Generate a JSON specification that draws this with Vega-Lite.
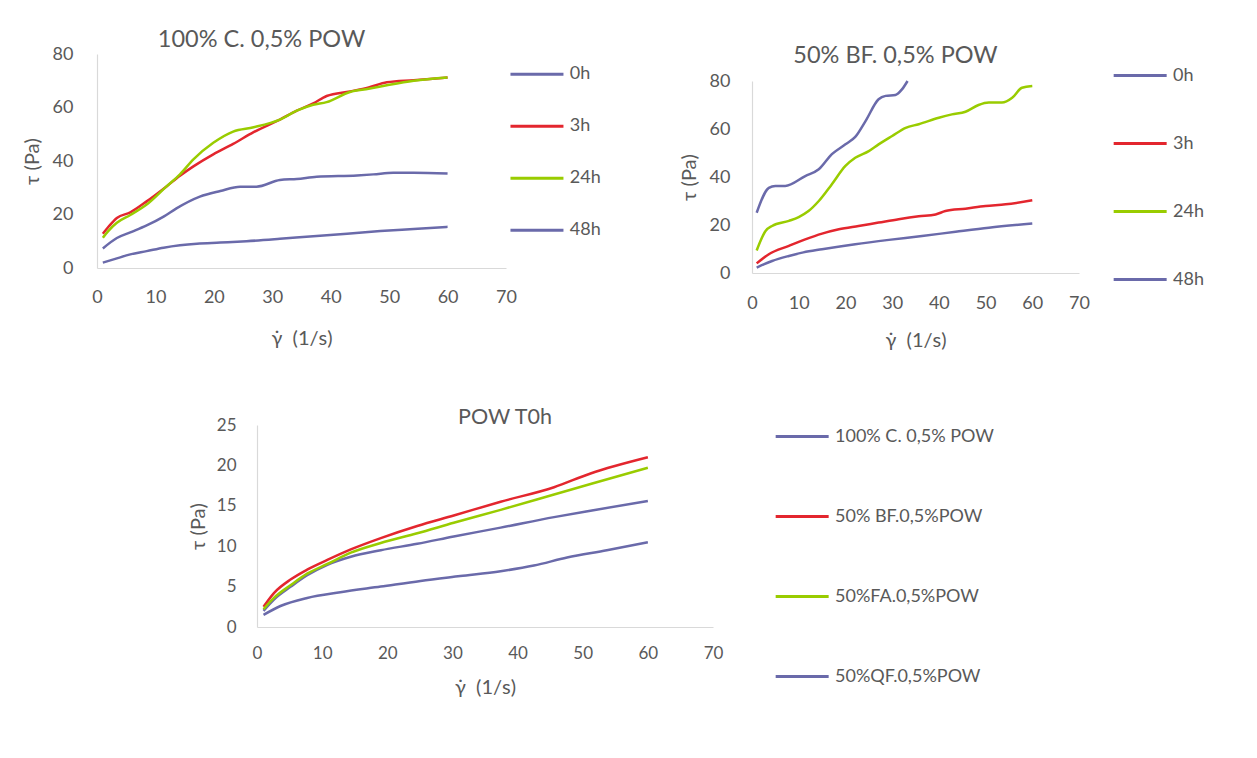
{
  "$schema": "https://vega.github.io/schema/vega-lite/v6.json",
  "background": "white",
  "padding": {"left": 22, "top": 27, "right": 0, "bottom": 0},
  "config": {
    "font": "Lato",
    "view": {"stroke": null},
    "axis": {"domainColor": "#D9D9D9", "domainWidth": 1.2, "ticks": false, "grid": false, "labelColor": "#595959", "titleColor": "#595959", "labelFont": "Lato", "titleFont": "Lato", "labelFontSize": 18, "titleFontSize": 20, "titleFontWeight": "normal", "labelFlush": false},
    "title": {"font": "Lato", "fontSize": 23.5, "fontWeight": "normal", "color": "#595959"},
    "legend": {"labelFont": "Lato", "labelFontSize": 18, "labelColor": "#595959", "symbolType": "M-1,0H5", "symbolSize": 312, "symbolStrokeWidth": 3, "labelOffset": 40, "labelLimit": 500}
  },
  "datasets": {
    "A": [
      {"series": "0h", "x": 1, "tau": 2.0}, {"series": "0h", "x": 3.4, "tau": 3.6}, {"series": "0h", "x": 5.7, "tau": 5.1}, {"series": "0h", "x": 8.5, "tau": 6.3}, {"series": "0h", "x": 11.4, "tau": 7.6}, {"series": "0h", "x": 14.2, "tau": 8.5}, {"series": "0h", "x": 17.1, "tau": 9.1}, {"series": "0h", "x": 21.1, "tau": 9.5}, {"series": "0h", "x": 25.6, "tau": 10.0}, {"series": "0h", "x": 31.3, "tau": 10.9}, {"series": "0h", "x": 37, "tau": 11.9}, {"series": "0h", "x": 42.8, "tau": 12.8}, {"series": "0h", "x": 48.5, "tau": 13.8}, {"series": "0h", "x": 54.2, "tau": 14.6}, {"series": "0h", "x": 60, "tau": 15.4},
      {"series": "3h", "x": 1, "tau": 12.8}, {"series": "3h", "x": 2, "tau": 15.5}, {"series": "3h", "x": 3.4, "tau": 18.7}, {"series": "3h", "x": 5.7, "tau": 20.8}, {"series": "3h", "x": 8.5, "tau": 24.9}, {"series": "3h", "x": 11.9, "tau": 30.5}, {"series": "3h", "x": 14.2, "tau": 34.5}, {"series": "3h", "x": 16.5, "tau": 38.0}, {"series": "3h", "x": 19.9, "tau": 42.5}, {"series": "3h", "x": 23.3, "tau": 46.4}, {"series": "3h", "x": 26.8, "tau": 50.8}, {"series": "3h", "x": 31.3, "tau": 55.5}, {"series": "3h", "x": 34.2, "tau": 58.8}, {"series": "3h", "x": 37, "tau": 61.5}, {"series": "3h", "x": 39.3, "tau": 64.3}, {"series": "3h", "x": 43.3, "tau": 66.0}, {"series": "3h", "x": 46.5, "tau": 67.5}, {"series": "3h", "x": 49.6, "tau": 69.4}, {"series": "3h", "x": 54.2, "tau": 70.2}, {"series": "3h", "x": 60, "tau": 71.2},
      {"series": "24h", "x": 1, "tau": 11.3}, {"series": "24h", "x": 2, "tau": 14.0}, {"series": "24h", "x": 3.4, "tau": 16.9}, {"series": "24h", "x": 5.7, "tau": 19.8}, {"series": "24h", "x": 8.5, "tau": 23.7}, {"series": "24h", "x": 11.9, "tau": 30.5}, {"series": "24h", "x": 14.2, "tau": 35.0}, {"series": "24h", "x": 16.5, "tau": 40.6}, {"series": "24h", "x": 19.9, "tau": 46.8}, {"series": "24h", "x": 23.3, "tau": 51.0}, {"series": "24h", "x": 26.8, "tau": 52.6}, {"series": "24h", "x": 31.3, "tau": 55.5}, {"series": "24h", "x": 34.2, "tau": 58.8}, {"series": "24h", "x": 37, "tau": 61.0}, {"series": "24h", "x": 39.3, "tau": 62.0}, {"series": "24h", "x": 43.3, "tau": 65.8}, {"series": "24h", "x": 46.5, "tau": 67.0}, {"series": "24h", "x": 49.6, "tau": 68.3}, {"series": "24h", "x": 54.2, "tau": 70.0}, {"series": "24h", "x": 60, "tau": 71.2},
      {"series": "48h", "x": 1, "tau": 7.3}, {"series": "48h", "x": 3.4, "tau": 11.2}, {"series": "48h", "x": 5.7, "tau": 13.3}, {"series": "48h", "x": 8.5, "tau": 15.9}, {"series": "48h", "x": 11.4, "tau": 19.2}, {"series": "48h", "x": 13.6, "tau": 22.3}, {"series": "48h", "x": 17.6, "tau": 26.7}, {"series": "48h", "x": 21.1, "tau": 28.8}, {"series": "48h", "x": 24.5, "tau": 30.4}, {"series": "48h", "x": 27.3, "tau": 30.4}, {"series": "48h", "x": 31.3, "tau": 32.9}, {"series": "48h", "x": 34.2, "tau": 33.3}, {"series": "48h", "x": 37.6, "tau": 34.1}, {"series": "48h", "x": 44.5, "tau": 34.6}, {"series": "48h", "x": 47.3, "tau": 35.0}, {"series": "48h", "x": 50.7, "tau": 35.6}, {"series": "48h", "x": 54.2, "tau": 35.6}, {"series": "48h", "x": 60, "tau": 35.3}
    ],
    "B": [
      {"series": "0h", "x": 1, "tau": 2.2}, {"series": "0h", "x": 2.5, "tau": 3.6}, {"series": "0h", "x": 4.3, "tau": 5.0}, {"series": "0h", "x": 7.9, "tau": 7.1}, {"series": "0h", "x": 11, "tau": 8.6}, {"series": "0h", "x": 15, "tau": 9.9}, {"series": "0h", "x": 22.1, "tau": 12.0}, {"series": "0h", "x": 29.3, "tau": 13.8}, {"series": "0h", "x": 36.4, "tau": 15.4}, {"series": "0h", "x": 43.6, "tau": 17.2}, {"series": "0h", "x": 50.7, "tau": 18.9}, {"series": "0h", "x": 60, "tau": 20.6},
      {"series": "3h", "x": 1, "tau": 4.0}, {"series": "3h", "x": 3.6, "tau": 7.8}, {"series": "3h", "x": 7.9, "tau": 11.3}, {"series": "3h", "x": 11.4, "tau": 14.0}, {"series": "3h", "x": 15, "tau": 16.4}, {"series": "3h", "x": 18.6, "tau": 18.2}, {"series": "3h", "x": 22.8, "tau": 19.6}, {"series": "3h", "x": 27.1, "tau": 21.0}, {"series": "3h", "x": 31.4, "tau": 22.4}, {"series": "3h", "x": 35.7, "tau": 23.6}, {"series": "3h", "x": 39.3, "tau": 24.4}, {"series": "3h", "x": 41.4, "tau": 25.8}, {"series": "3h", "x": 45.7, "tau": 26.8}, {"series": "3h", "x": 50, "tau": 27.9}, {"series": "3h", "x": 54.3, "tau": 28.6}, {"series": "3h", "x": 60, "tau": 30.3},
      {"series": "24h", "x": 1, "tau": 9.4}, {"series": "24h", "x": 2.9, "tau": 17.5}, {"series": "24h", "x": 4.3, "tau": 19.6}, {"series": "24h", "x": 7.9, "tau": 21.7}, {"series": "24h", "x": 10, "tau": 23.3}, {"series": "24h", "x": 12.1, "tau": 25.8}, {"series": "24h", "x": 14.3, "tau": 30.0}, {"series": "24h", "x": 17.1, "tau": 37.0}, {"series": "24h", "x": 20, "tau": 44.6}, {"series": "24h", "x": 22.1, "tau": 48.0}, {"series": "24h", "x": 25, "tau": 50.8}, {"series": "24h", "x": 27.1, "tau": 53.6}, {"series": "24h", "x": 30, "tau": 57.1}, {"series": "24h", "x": 32.9, "tau": 60.5}, {"series": "24h", "x": 35.7, "tau": 62.0}, {"series": "24h", "x": 40, "tau": 64.7}, {"series": "24h", "x": 42.8, "tau": 66.1}, {"series": "24h", "x": 45.7, "tau": 67.2}, {"series": "24h", "x": 48.5, "tau": 70.0}, {"series": "24h", "x": 50.7, "tau": 71.0}, {"series": "24h", "x": 53.5, "tau": 71.0}, {"series": "24h", "x": 55.7, "tau": 73.0}, {"series": "24h", "x": 57.8, "tau": 77.2}, {"series": "24h", "x": 60, "tau": 77.9},
      {"series": "48h", "x": 1, "tau": 25.1}, {"series": "48h", "x": 3.6, "tau": 35.5}, {"series": "48h", "x": 5, "tau": 36.3}, {"series": "48h", "x": 7.1, "tau": 36.3}, {"series": "48h", "x": 11.4, "tau": 40.4}, {"series": "48h", "x": 14.3, "tau": 43.2}, {"series": "48h", "x": 17.1, "tau": 49.5}, {"series": "48h", "x": 20, "tau": 53.6}, {"series": "48h", "x": 22.1, "tau": 56.7}, {"series": "48h", "x": 24.3, "tau": 63.3}, {"series": "48h", "x": 27.1, "tau": 72.4}, {"series": "48h", "x": 28.6, "tau": 73.8}, {"series": "48h", "x": 30.7, "tau": 74.2}, {"series": "48h", "x": 32.1, "tau": 76.5}, {"series": "48h", "x": 33.3, "tau": 80.0}
    ],
    "C": [
      {"series": "100% C. 0,5% POW", "x": 1, "tau": 2.0}, {"series": "100% C. 0,5% POW", "x": 2.6, "tau": 3.4}, {"series": "100% C. 0,5% POW", "x": 5.2, "tau": 5.0}, {"series": "100% C. 0,5% POW", "x": 7.7, "tau": 6.4}, {"series": "100% C. 0,5% POW", "x": 10.8, "tau": 7.7}, {"series": "100% C. 0,5% POW", "x": 14.4, "tau": 8.7}, {"series": "100% C. 0,5% POW", "x": 19, "tau": 9.5}, {"series": "100% C. 0,5% POW", "x": 24.6, "tau": 10.3}, {"series": "100% C. 0,5% POW", "x": 30.2, "tau": 11.2}, {"series": "100% C. 0,5% POW", "x": 37.4, "tau": 12.3}, {"series": "100% C. 0,5% POW", "x": 45.6, "tau": 13.6}, {"series": "100% C. 0,5% POW", "x": 51.2, "tau": 14.4}, {"series": "100% C. 0,5% POW", "x": 60, "tau": 15.6},
      {"series": "50% BF.0,5%POW", "x": 1, "tau": 2.5}, {"series": "50% BF.0,5%POW", "x": 2.6, "tau": 4.2}, {"series": "50% BF.0,5%POW", "x": 5.2, "tau": 5.9}, {"series": "50% BF.0,5%POW", "x": 7.7, "tau": 7.1}, {"series": "50% BF.0,5%POW", "x": 10.8, "tau": 8.3}, {"series": "50% BF.0,5%POW", "x": 14.4, "tau": 9.6}, {"series": "50% BF.0,5%POW", "x": 19, "tau": 11.0}, {"series": "50% BF.0,5%POW", "x": 24.6, "tau": 12.5}, {"series": "50% BF.0,5%POW", "x": 30.2, "tau": 13.8}, {"series": "50% BF.0,5%POW", "x": 37.4, "tau": 15.5}, {"series": "50% BF.0,5%POW", "x": 45.6, "tau": 17.3}, {"series": "50% BF.0,5%POW", "x": 51.2, "tau": 19.0}, {"series": "50% BF.0,5%POW", "x": 60, "tau": 21.0},
      {"series": "50%FA.0,5%POW", "x": 1, "tau": 2.2}, {"series": "50%FA.0,5%POW", "x": 2.6, "tau": 3.6}, {"series": "50%FA.0,5%POW", "x": 5.2, "tau": 5.2}, {"series": "50%FA.0,5%POW", "x": 7.7, "tau": 6.6}, {"series": "50%FA.0,5%POW", "x": 10.8, "tau": 7.8}, {"series": "50%FA.0,5%POW", "x": 14.4, "tau": 9.2}, {"series": "50%FA.0,5%POW", "x": 19, "tau": 10.4}, {"series": "50%FA.0,5%POW", "x": 24.6, "tau": 11.6}, {"series": "50%FA.0,5%POW", "x": 30.2, "tau": 12.9}, {"series": "50%FA.0,5%POW", "x": 37.4, "tau": 14.5}, {"series": "50%FA.0,5%POW", "x": 45.6, "tau": 16.4}, {"series": "50%FA.0,5%POW", "x": 51.2, "tau": 17.7}, {"series": "50%FA.0,5%POW", "x": 60, "tau": 19.7},
      {"series": "50%QF.0,5%POW", "x": 1, "tau": 1.5}, {"series": "50%QF.0,5%POW", "x": 3.6, "tau": 2.6}, {"series": "50%QF.0,5%POW", "x": 7.7, "tau": 3.6}, {"series": "50%QF.0,5%POW", "x": 12.8, "tau": 4.3}, {"series": "50%QF.0,5%POW", "x": 19, "tau": 5.0}, {"series": "50%QF.0,5%POW", "x": 25.1, "tau": 5.7}, {"series": "50%QF.0,5%POW", "x": 31.2, "tau": 6.3}, {"series": "50%QF.0,5%POW", "x": 37.4, "tau": 6.9}, {"series": "50%QF.0,5%POW", "x": 42.5, "tau": 7.6}, {"series": "50%QF.0,5%POW", "x": 47.6, "tau": 8.6}, {"series": "50%QF.0,5%POW", "x": 53.7, "tau": 9.5}, {"series": "50%QF.0,5%POW", "x": 60, "tau": 10.5}
    ]
  },
  "resolve": {"scale": {"color": "independent"}, "legend": {"color": "independent"}},
  "center": true,
  "spacing": 57,
  "vconcat": [
    {
      "spacing": 68,
      "resolve": {"scale": {"color": "independent"}, "legend": {"color": "independent"}},
      "hconcat": [
        {
          "width": 409,
          "height": 214,
          "title": {"text": "100% C. 0,5% POW", "dx": -40, "offset": -6},
          "data": {"name": "A"},
          "mark": {"type": "line", "interpolate": "monotone", "strokeWidth": 2.5},
          "encoding": {
            "x": {"field": "x", "type": "quantitative", "scale": {"domain": [0, 70]}, "axis": {"values": [0, 10, 20, 30, 40, 50, 60, 70], "title": "γ̇\u00a0\u00a0(1/s)", "labelPadding": 20, "titlePadding": 22}},
            "y": {"field": "tau", "type": "quantitative", "scale": {"domain": [0, 80]}, "axis": {"values": [0, 20, 40, 60, 80], "title": "τ (Pa)", "labelPadding": 24, "titlePadding": 10}},
            "color": {"field": "series", "type": "nominal", "scale": {"domain": ["0h", "3h", "24h", "48h"], "range": ["#6A6AAA", "#E3262E", "#99CC00", "#6A6AAA"]}, "legend": {"title": null, "padding": 9.8, "offset": -6.6, "rowPadding": 32}}
          }
        },
        {
          "width": 327,
          "height": 219,
          "title": {"text": "50% BF. 0,5% POW", "dx": -20, "offset": -13.5},
          "data": {"name": "B"},
          "mark": {"type": "line", "interpolate": "monotone", "strokeWidth": 2.5},
          "encoding": {
            "x": {"field": "x", "type": "quantitative", "scale": {"domain": [0, 70]}, "axis": {"values": [0, 10, 20, 30, 40, 50, 60, 70], "title": "γ̇\u00a0\u00a0(1/s)", "labelPadding": 21, "titlePadding": 18}},
            "y": {"field": "tau", "type": "quantitative", "scale": {"domain": [0, 80], "range": [219, 27]}, "axis": {"values": [0, 20, 40, 60, 80], "title": "τ (Pa)", "labelPadding": 22, "titlePadding": 10}},
            "color": {"field": "series", "type": "nominal", "scale": {"domain": ["0h", "3h", "24h", "48h"], "range": ["#6A6AAA", "#E3262E", "#99CC00", "#6A6AAA"]}, "legend": {"title": null, "padding": 11, "offset": 22, "rowPadding": 48}}
          }
        }
      ]
    },
    {
      "width": 456,
      "height": 202,
      "title": {"text": "POW T0h", "dx": 20, "offset": -12.5, "fontSize": 21.5},
      "data": {"name": "C"},
      "mark": {"type": "line", "interpolate": "monotone", "strokeWidth": 2.5},
      "encoding": {
        "x": {"field": "x", "type": "quantitative", "scale": {"domain": [0, 70]}, "axis": {"values": [0, 10, 20, 30, 40, 50, 60, 70], "title": "γ̇\u00a0\u00a0(1/s)", "labelPadding": 18, "titlePadding": 16, "labelFontSize": 17}},
        "y": {"field": "tau", "type": "quantitative", "scale": {"domain": [0, 25]}, "axis": {"values": [0, 5, 10, 15, 20, 25], "title": "τ (Pa)", "labelPadding": 21, "titlePadding": 8, "labelFontSize": 17}},
        "color": {"field": "series", "type": "nominal", "scale": {"domain": ["100% C. 0,5% POW", "50% BF.0,5%POW", "50%FA.0,5%POW", "50%QF.0,5%POW"], "range": ["#6A6AAA", "#E3262E", "#99CC00", "#6A6AAA"]}, "legend": {"title": null, "padding": 1, "offset": 60.3, "rowPadding": 60, "labelExpr": "datum.label + '\u00a0\u00a0\u00a0\u00a0\u00a0\u00a0\u00a0\u00a0\u00a0\u00a0\u00a0\u00a0\u00a0\u200b'"}}
      }
    }
  ]
}
